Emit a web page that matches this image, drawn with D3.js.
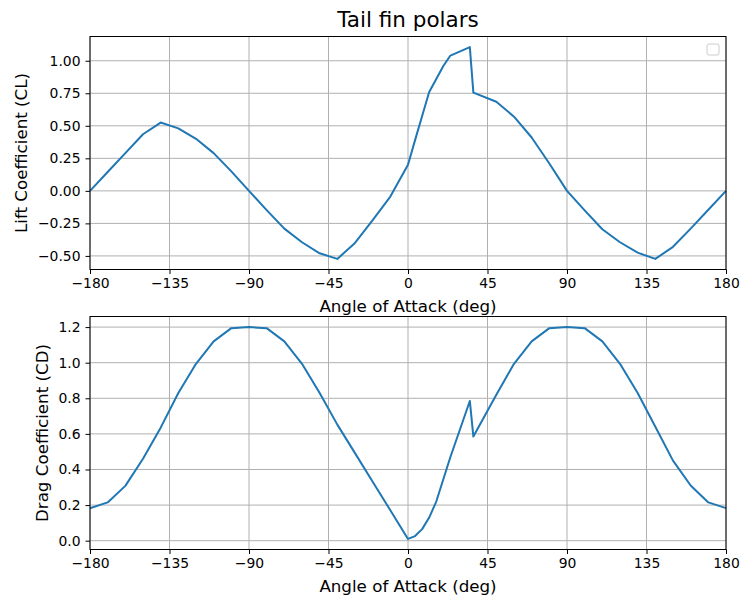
<!DOCTYPE html>
<html>
<head>
<meta charset="utf-8">
<script src="https://cdn.jsdelivr.net/npm/d3@7"></script>
<style>
  body { margin: 0; background: #fff; }
  svg { font-family: "DejaVu Sans", sans-serif; }
</style>
</head>
<body>
<div class="chart"></div>
<script>
var alpha = [-180, -170, -160, -150, -140, -130, -120, -110, -100, -90, -80, -70, -60, -50, -40, -30, -20, -10,
  0, 4, 8, 12, 16, 20, 24, 35, 37, 50, 60, 70, 80, 90, 100, 110, 120, 130, 140, 150, 160, 170, 180];

var cl = [0, 0.145, 0.29, 0.435, 0.525, 0.48, 0.40, 0.29, 0.15, 0, -0.148, -0.29, -0.395, -0.48, -0.523, -0.40, -0.225, -0.044,
  0.2, 0.39, 0.575, 0.76, 0.86, 0.96, 1.04, 1.105, 0.755, 0.685, 0.57, 0.41, 0.21, 0, -0.15, -0.295, -0.395, -0.475, -0.523, -0.43, -0.29, -0.145, 0];

var cd = [0.182, 0.215, 0.308, 0.46, 0.635, 0.83, 0.994, 1.12, 1.194, 1.2, 1.194, 1.12, 0.994, 0.83, 0.652, 0.492, 0.331, 0.171,
  0.01, 0.026, 0.065, 0.13, 0.22, 0.345, 0.47, 0.785, 0.585, 0.82, 0.994, 1.12, 1.194, 1.2, 1.194, 1.12, 0.994, 0.83, 0.64, 0.45, 0.31, 0.215, 0.183];

var xTicks = [-180, -135, -90, -45, 0, 45, 90, 135, 180];
var clTicks = [-0.5, -0.25, 0, 0.25, 0.5, 0.75, 1.0];
var cdTicks = [0, 0.2, 0.4, 0.6, 0.8, 1.0, 1.2];

var W = 741, H = 599;
var left = 90, right = 726;

var svg = d3.select('.chart')
  .append('svg')
    .attr('width', W)
    .attr('height', H);

var minus = s => s.replace('-', '\u2212');

function panel(top, bottom, yVals, yTicks, fmt, yLabel, labelX) {
  var lo = d3.min(yVals), hi = d3.max(yVals), pad = (hi - lo) * 0.05;

  var x = d3.scaleLinear().domain([-180, 180]).range([left, right]);
  var y = d3.scaleLinear().domain([lo - pad, hi + pad]).range([bottom, top]);

  var g = svg.append('g');

  // grid
  g.selectAll('.vg').data(xTicks).enter().append('line')
    .attr('x1', d => x(d)).attr('x2', d => x(d))
    .attr('y1', top).attr('y2', bottom)
    .attr('stroke', '#b0b0b0').attr('stroke-width', 1);
  g.selectAll('.hg').data(yTicks).enter().append('line')
    .attr('x1', left).attr('x2', right)
    .attr('y1', d => y(d)).attr('y2', d => y(d))
    .attr('stroke', '#b0b0b0').attr('stroke-width', 1);

  // curve
  var line = d3.line().x((d, i) => x(alpha[i])).y(d => y(d));
  g.append('path')
    .datum(yVals)
    .attr('d', line)
    .attr('fill', 'none')
    .attr('stroke', '#1f77b4')
    .attr('stroke-width', 2)
    .attr('stroke-linejoin', 'round');

  // axes
  var xAxis = d3.axisBottom(x).tickValues(xTicks).tickSize(4.5).tickPadding(4.5)
    .tickFormat(d => minus(String(d)));
  g.append('g')
    .attr('transform', `translate(0, ${bottom})`)
    .call(xAxis);

  var yAxis = d3.axisLeft(y).tickValues(yTicks).tickSize(4.5).tickPadding(5)
    .tickFormat(d => minus(d3.format(fmt)(d)));
  g.append('g')
    .attr('transform', `translate(${left}, 0)`)
    .call(yAxis);

  g.selectAll('.domain').remove();
  g.selectAll('.tick text').attr('font-size', 13.9).attr('fill', '#000')
    .attr('font-family', '"DejaVu Sans", sans-serif');
  g.selectAll('.tick line').attr('stroke', '#000').attr('stroke-width', 1);

  // frame
  g.append('rect')
    .attr('x', left).attr('y', top)
    .attr('width', right - left).attr('height', bottom - top)
    .attr('fill', 'none').attr('stroke', '#000').attr('stroke-width', 1);

  g.append('text')
    .attr('x', (left + right) / 2).attr('y', bottom + 42)
    .attr('text-anchor', 'middle').attr('font-size', 16.7)
    .text('Angle of Attack (deg)');

  g.append('text')
    .attr('transform', `translate(${labelX}, ${(top + bottom) / 2}) rotate(-90)`)
    .attr('text-anchor', 'middle').attr('font-size', 16.7)
    .text(yLabel);
}

panel(36.5, 269.5, cl, clTicks, '.2f', 'Lift Coefficient (CL)', 27);
panel(316.5, 549.5, cd, cdTicks, '.1f', 'Drag Coefficient (CD)', 48);

svg.append('text')
  .attr('x', (left + right) / 2).attr('y', 27.3)
  .attr('text-anchor', 'middle').attr('font-size', 21.5)
  .text('Tail fin polars');

// empty legend box
svg.append('rect')
  .attr('x', 707).attr('y', 44)
  .attr('width', 12).attr('height', 11)
  .attr('rx', 2)
  .attr('fill', '#fff').attr('stroke', '#cccccc').attr('stroke-width', 1);
</script>
</body>
</html>
